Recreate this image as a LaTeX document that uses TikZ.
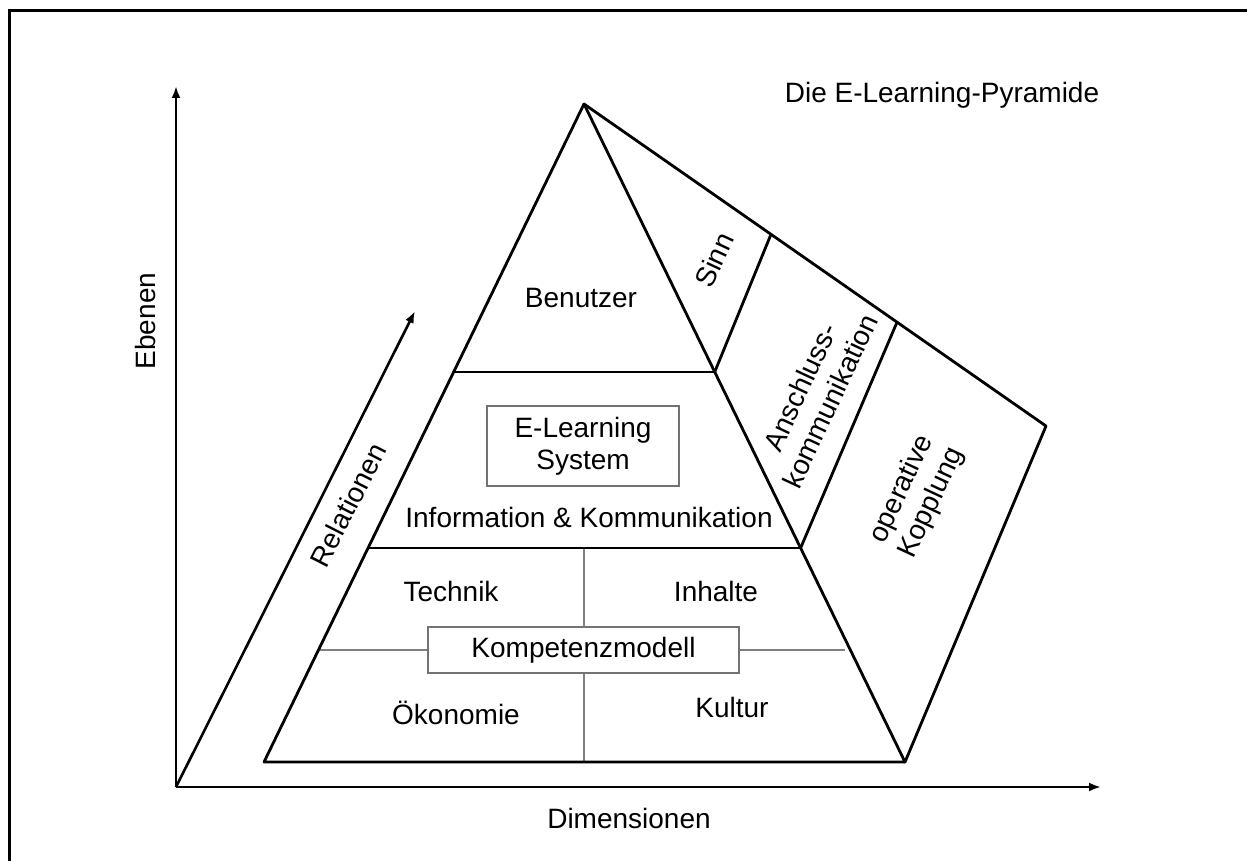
\documentclass[tikz,border=0pt]{standalone}
\usepackage{fontspec}
\setmainfont{Liberation Sans}
\usetikzlibrary{arrows.meta}
\begin{document}
\begin{tikzpicture}[x=1pt,y=-1pt,
  edge/.style={line width=2.8pt, line join=round, line cap=round},
  axis/.style={line width=2.6pt, -{Latex[length=12pt,width=9pt]}},
  greyline/.style={draw=black!50, line width=2pt},
  lbl/.style={font=\fontsize{28}{33}\selectfont, inner sep=0pt, align=center},
  boxed/.style={draw=black!55, line width=1.5pt, fill=white, font=\fontsize{28}{32}\selectfont, align=center}
]
\useasboundingbox (0,0) rectangle (1247,861);
% frame
\coordinate (F1) at (9,861);
\coordinate (F2) at (9,11);
\coordinate (F3) at (1247,11);
\draw[line width=3pt] (F1) -- (F2) -- (F3);
% axes
\coordinate (O) at (176,787);
\coordinate (Ytip) at (176,86);
\coordinate (Xtip) at (1101,787);
\coordinate (Rtip) at (415,311);
\draw[axis] (O) -- (Ytip);
\draw[axis] (O) -- (Xtip);
\draw[axis] (O) -- (Rtip);
% pyramid coordinates
\coordinate (A) at (584,104);
\coordinate (BL) at (264,762);
\coordinate (BR) at (905,762);
\coordinate (L1) at (453.7,372);
\coordinate (R1) at (714.7,372);
\coordinate (L2) at (368.1,548);
\coordinate (R2) at (800.6,548);
\coordinate (P) at (1046,426);
\coordinate (S1) at (771,234.3);
\coordinate (S2) at (897,322.2);
\coordinate (M1) at (584,548);
\coordinate (M2) at (584,762);
\coordinate (G1) at (320,650);
\coordinate (G2) at (845,650);
% grey cross
\draw[greyline] (M1) -- (M2);
\draw[greyline] (G1) -- (G2);
% boxes
\node[boxed, minimum width=192pt, minimum height=80pt] (els) at (583,446) {E-Learning\\System};
\node[boxed, minimum width=311pt, minimum height=46pt] (km) at (583.5,650) {Kompetenzmodell};
% pyramid outlines
\draw[edge] (A) -- (BR) -- (BL) -- cycle;
\draw[edge] (L1) -- (R1);
\draw[edge] (L2) -- (R2);
\draw[edge] (A) -- (P) -- (BR);
\draw[edge] (R1) -- (S1);
\draw[edge] (R2) -- (S2);
% labels
\node[lbl, anchor=base] (title) at (942,103) {Die E-Learning-Pyramide};
\node[lbl, anchor=base] (ben) at (581,307) {Benutzer};
\node[lbl, anchor=base] (iuk) at (589,527) {Information \& Kommunikation};
\node[lbl, anchor=base] (tech) at (451,601) {Technik};
\node[lbl, anchor=base] (inh) at (716,601) {Inhalte};
\node[lbl, anchor=base] (oek) at (456,724) {Ökonomie};
\node[lbl, anchor=base] (kul) at (732,717) {Kultur};
\node[lbl, anchor=base] (dim) at (629,828) {Dimensionen};
\node[lbl, rotate=90] (ebe) at (145,321) {Ebenen};
\node[lbl, rotate=63] (rel) at (348,505) {Relationen};
\node[lbl, rotate=65] (sinn) at (714,260) {Sinn};
\node[lbl, rotate=65] (ansch) at (815,394) {Anschluss-\\kommunikation};
\node[lbl, rotate=65] (opk) at (917,496) {operative\\Kopplung};
\end{tikzpicture}
\end{document}
